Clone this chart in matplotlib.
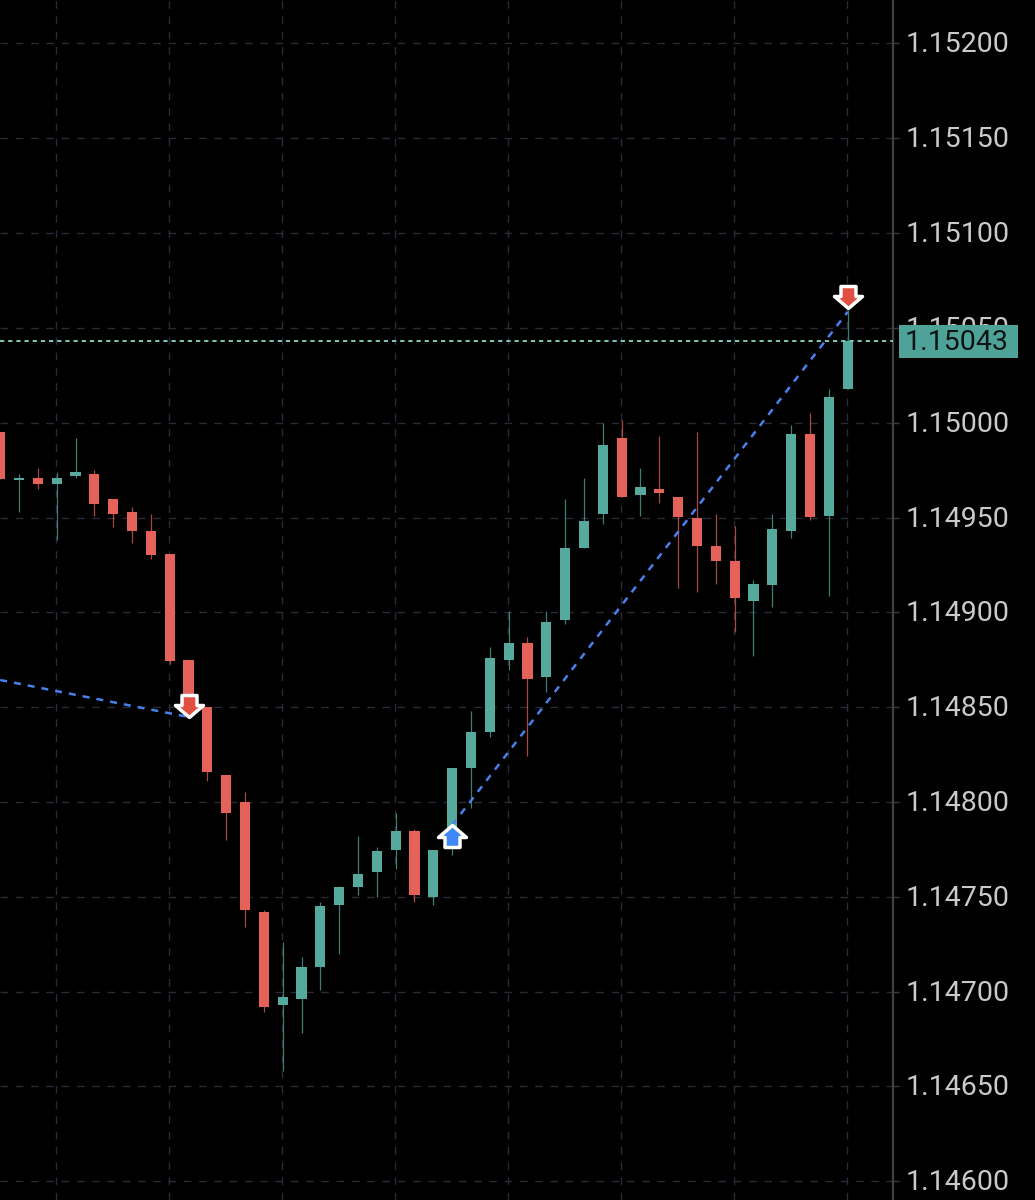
import matplotlib.pyplot as plt
from matplotlib.markers import MarkerStyle
from matplotlib.patches import Rectangle
from matplotlib.path import Path
from matplotlib.transforms import ScaledTranslation
plt.switch_backend('Agg')

##### Candle data, one value per candle #####
opens = [1.149951, 1.149700, 1.149708, 1.149679, 1.149719, 1.149729, 1.149600, 1.149529, 1.149431, 1.149310,
         1.148748, 1.148501, 1.148142, 1.148000, 1.147420, 1.146931, 1.146959, 1.147129, 1.147459, 1.147551,
         1.147630, 1.147749, 1.147847, 1.147501, 1.147752, 1.148179, 1.148369, 1.148748, 1.148838, 1.148659,
         1.148959, 1.149339, 1.149518, 1.149919, 1.149621, 1.149650, 1.149608, 1.149500, 1.149350, 1.149271,
         1.149060, 1.149144, 1.149431, 1.149940, 1.149508, 1.150178]
closes = [1.149703, 1.149708, 1.149679, 1.149708, 1.149740, 1.149571, 1.149518, 1.149431, 1.149300, 1.148741,
          1.148501, 1.148158, 1.147942, 1.147430, 1.146918, 1.146971, 1.147129, 1.147451, 1.147551, 1.147620,
          1.147741, 1.147847, 1.147509, 1.147749, 1.148179, 1.148369, 1.148759, 1.148838, 1.148650, 1.148949,
          1.149339, 1.149482, 1.149882, 1.149608, 1.149661, 1.149629, 1.149503, 1.149350, 1.149271, 1.149073,
          1.149149, 1.149439, 1.149940, 1.149503, 1.150136, 1.150431]
highs = [1.149951, 1.149727, 1.149761, 1.149740, 1.149919, 1.149748, 1.149600, 1.149558, 1.149518, 1.149310,
         1.148748, 1.148501, 1.148142, 1.148050, 1.147430, 1.147261, 1.147180, 1.147472, 1.147557, 1.147820,
         1.147760, 1.147942, 1.147857, 1.147749, 1.148179, 1.148480, 1.148817, 1.149007, 1.148870, 1.149007,
         1.149600, 1.149708, 1.150001, 1.150014, 1.149761, 1.149932, 1.149608, 1.149951, 1.149516, 1.149453,
         1.149170, 1.149516, 1.149988, 1.150051, 1.150178, 1.150594]
lows = [1.149703, 1.149529, 1.149650, 1.149381, 1.149708, 1.149508, 1.149450, 1.149366, 1.149279, 1.148730,
        1.148501, 1.148110, 1.147799, 1.147340, 1.146890, 1.146581, 1.146781, 1.147008, 1.147198, 1.147509,
        1.147501, 1.147644, 1.147472, 1.147456, 1.147720, 1.147970, 1.148342, 1.148698, 1.148242, 1.148582,
        1.148938, 1.149339, 1.149468, 1.149608, 1.149508, 1.149579, 1.149128, 1.149107, 1.149149, 1.148896,
        1.148770, 1.149028, 1.149392, 1.149489, 1.149086, 1.150178]

##### Axis values, trade lines and arrows #####
price_ticks = [1.146, 1.1465, 1.147, 1.1475, 1.148, 1.1485, 1.149, 1.1495, 1.15, 1.1505, 1.151, 1.1515, 1.152]
time_grid = [3, 9, 15, 21, 27, 33, 39, 45]
last_price = 1.15043

trade1_x = [0, 10]
trade1_y = [1.148643, 1.148448]
trade2_x = [24, 45]
trade2_y = [1.147878, 1.150584]

sell_x = [10, 45]
sell_y = [1.148448, 1.150605]
buy_x = [24]
buy_y = [1.147878]

GREEN = '#55a99d'
RED = '#e4625a'
BLUE = '#4a80ea'
GRID = '#2a2a38'
FONT = 'Roboto'

fig = plt.figure(figsize=(10.35, 12), dpi=100, facecolor='black')
ax = fig.add_axes([0, 0, 893 / 1035, 1], facecolor='black')

##### Candles #####
colours = [GREEN if c >= o else RED for o, c in zip(opens, closes)]
xs = list(range(len(opens)))
bottoms = [min(o, c) for o, c in zip(opens, closes)]
# doji candles still need a visible body
heights = [max(abs(c - o), 0.000008) for o, c in zip(opens, closes)]

ax.vlines(xs, lows, highs, colors=colours, linewidth=0.9, zorder=3, alpha=0.75)
ax.bar(xs, heights, bottom=bottoms, width=0.54, color=colours, linewidth=0, zorder=3.2)

##### Grid #####
for p in price_ticks:
    ax.axhline(p, color=GRID, linewidth=1.0, linestyle=(0, (5.5, 5.5)), zorder=1)
for t in time_grid:
    ax.axvline(t - 0.04, color=GRID, linewidth=1.0, linestyle=(0, (5.5, 5.5)), zorder=1)

##### Trade lines and last price #####
ax.plot(trade1_x, trade1_y, color=BLUE, linewidth=1.8, linestyle=(0, (2.8, 2.8)), zorder=4)
ax.plot(trade2_x, trade2_y, color=BLUE, linewidth=1.8, linestyle=(0, (2.8, 2.8)), zorder=4)
ax.axhline(last_price, color='#7ec9bb', linewidth=1.4, linestyle=(0, (2.2, 2)), zorder=3.5)

##### Arrows, the point sits at the tip of the arrow #####
down_verts = [(0, 0), (-14, 12), (-7.5, 12), (-7.5, 22), (7.5, 22), (7.5, 12), (14, 12), (0, 0)]
up_verts = [(x, -y) for x, y in down_verts]
codes = [Path.MOVETO] + [Path.LINETO] * 6 + [Path.CLOSEPOLY]
arrow_size = 2 * 22 * 0.72

sell_marker = MarkerStyle(Path(down_verts, codes), joinstyle='miter')
buy_marker = MarkerStyle(Path(up_verts, codes), joinstyle='miter')
ax.plot(sell_x, sell_y, linestyle='none', marker=sell_marker, markersize=arrow_size,
        markerfacecolor='#e04f41', markeredgecolor='white', markeredgewidth=2.5, zorder=6)
ax.plot(buy_x, buy_y, linestyle='none', marker=buy_marker, markersize=arrow_size,
        markerfacecolor='#3f86f7', markeredgecolor='white', markeredgewidth=2.5, zorder=6)

##### Axes #####
ax.set_xlim(-0.011, 47.41)
ax.set_ylim(1.145901, 1.152229)
ax.set_xticks([])
ax.set_yticks(price_ticks)
ax.set_yticklabels(['%.5f' % p for p in price_ticks], fontfamily=FONT, fontsize=20.5, color='#cacaca')
ax.yaxis.tick_right()
ax.tick_params(axis='y', length=4, width=1, color='#3a3a3a', pad=5)
for side in ['top', 'left', 'bottom']:
    ax.spines[side].set_visible(False)
ax.spines['right'].set_color('#404040')
ax.spines['right'].set_linewidth(1.6)

# labels sit a little higher than matplotlib centres them
lift = ScaledTranslation(0, 1.5 / 100, fig.dpi_scale_trans)
for label in ax.get_yticklabels():
    label.set_transform(label.get_transform() + lift)

##### Last price label, covers the tick label behind it #####
trans = ax.get_yaxis_transform()
ax.add_patch(Rectangle((1.0067, last_price - 0.000087), 0.1333, 0.000174, transform=trans,
                       facecolor='#4fa297', edgecolor='none', clip_on=False, zorder=7))
ax.text(1.0130, last_price, '%.5f' % last_price, transform=trans + lift, va='center_baseline', ha='left',
        fontfamily=FONT, fontsize=20.5, color='#0c1513', zorder=8)

fig.savefig('out.png', dpi=100, facecolor='black')
